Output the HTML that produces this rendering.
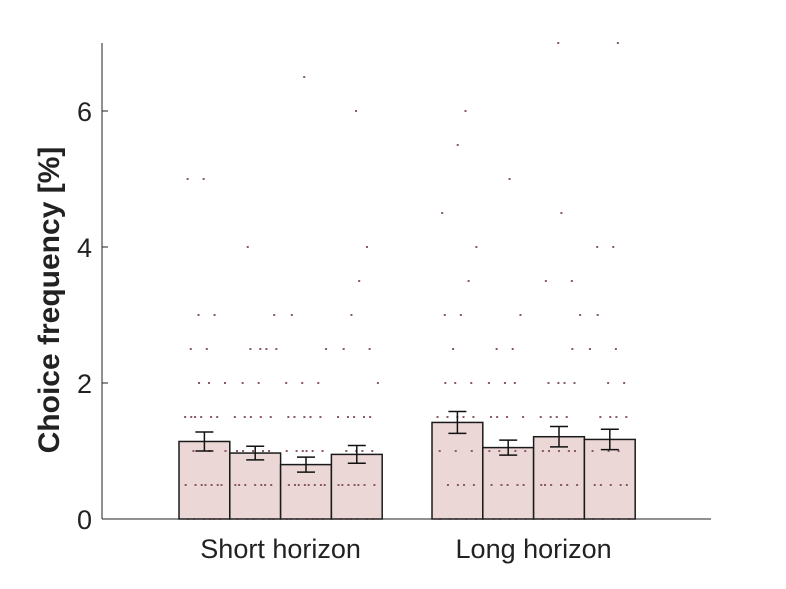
<!DOCTYPE html>
<html><head><meta charset="utf-8"><style>
body{margin:0;background:#fff}
svg text{font-family:"Liberation Sans",sans-serif;fill:#222}
</style></head><body>
<svg id="c" width="786" height="584"></svg>
<script>
const groups=["Short horizon","Long horizon"];
const means=[1.14,0.97,0.80,0.95,1.42,1.05,1.21,1.17];
const errs=[0.14,0.10,0.11,0.13,0.16,0.11,0.15,0.15];
const yTicks=[0,2,4,6];
const dots=[
 [0,0,0,0,0,0,0.5,0.5,0.5,0.5,0.5,0.5,0.5,1,1,1,1.5,1.5,1.5,1.5,1.5,1.5,2,2,2,2.5,2.5,3,3,5,5],
 [0,0,0,0,0,0,0.5,0.5,0.5,0.5,0.5,0.5,0.5,1,1,1,1,1,1.5,1.5,1.5,1.5,1.5,2,2,2.5,2.5,2.5,2.5,3,4],
 [0,0,0,0,0,0,0,0.5,0.5,0.5,0.5,0.5,0.5,0.5,0.5,1,1,1,1,1,1,1.5,1.5,1.5,1.5,1.5,2,2,2,2.5,3,6.5],
 [0,0,0,0,0,0,0.5,0.5,0.5,0.5,0.5,0.5,0.5,1,1,1,1,1.5,1.5,1.5,1.5,1.5,2,2.5,2.5,3,3.5,4,6],
 [0,0,0,0,0,0.5,0.5,0.5,0.5,1,1,1,1.5,1.5,1.5,1.5,1.5,2,2,2,2.5,3,3,3.5,4,4.5,5.5,6],
 [0,0,0,0,0,0.5,0.5,0.5,0.5,0.5,1,1,1,1,1.5,1.5,1.5,1.5,2,2,2,2.5,2.5,3,5],
 [0,0,0,0,0,0,0.5,0.5,0.5,0.5,0.5,0.5,1,1,1,1,1,1.5,1.5,1.5,1.5,2,2,2,2,2.5,3,3.5,3.5,4.5,7],
 [0,0,0,0,0,0.5,0.5,0.5,0.5,0.5,1,1,1,1.5,1.5,1.5,1.5,2,2,2.5,2.5,3,4,4,7]
];
const NS="http://www.w3.org/2000/svg";
const svg=document.getElementById('c');
const X0=102,X1=711,Y0=519,PXU=68;
const y=v=>Y0-v*PXU;
const barX=i=>(i<4?179:432)+(i%4)*50.8;
const BW=50.8;
function el(t,a,p){const e=document.createElementNS(NS,t);for(const k in a)e.setAttribute(k,a[k]);(p||svg).appendChild(e);return e;}
means.forEach((m,i)=>{
 const r=el('rect',{x:barX(i),y:y(m),width:BW,height:Y0-y(m),fill:'#ecd7d7',stroke:'#1a1a1a','stroke-width':1.5});
 
 
});
dots.forEach((arr,i)=>{
 const cnt={};
 arr.forEach(v=>{
  const k=v;cnt[k]=(cnt[k]||0)+1;const n=cnt[k];
  const off=4+(((n*0.618)+v*0.37+i*0.21)%1)*42;
  const d=el('rect',{x:barX(i)+off,y:y(v)-1,width:2,height:2,fill:'#8a5a62'});
  
  
 });
});
means.forEach((m,i)=>{
 const cx=barX(i)+BW/2,t=y(m+errs[i]),b=y(m-errs[i]);
 const g=el('g',{stroke:'#111','stroke-width':1.5});
 
 
 el('line',{x1:cx,x2:cx,y1:t,y2:b},g);
 el('line',{x1:cx-9,x2:cx+9,y1:t,y2:t},g);
 el('line',{x1:cx-9,x2:cx+9,y1:b,y2:b},g);
});
const ax=el('line',{x1:X0,x2:X1,y1:Y0,y2:Y0,stroke:'#222','stroke-width':1});


const ay=el('line',{x1:X0,x2:X0,y1:y(7),y2:Y0,stroke:'#222','stroke-width':1});


yTicks.forEach(v=>{
 el('line',{x1:X0,x2:X0+6,y1:y(v),y2:y(v),stroke:'#222'});
 const t=el('text',{x:X0-10,y:y(v)+10,'text-anchor':'end','font-size':27});
 t.textContent=v;
 
 
});
groups.forEach((g,i)=>{
 const cx=(i==0?179:432)+2*BW;
 el('line',{x1:cx,x2:cx,y1:Y0,y2:Y0-6,stroke:'#222'});
 const t=el('text',{x:cx,y:558,'text-anchor':'middle','font-size':27});
 t.textContent=g;
 
 
});
const yt=el('text',{x:0,y:0,'text-anchor':'middle','font-size':30,'font-weight':'bold',transform:'translate(59,300) rotate(-90)'});
yt.textContent='Choice frequency [%]';


</script>
</body></html>
